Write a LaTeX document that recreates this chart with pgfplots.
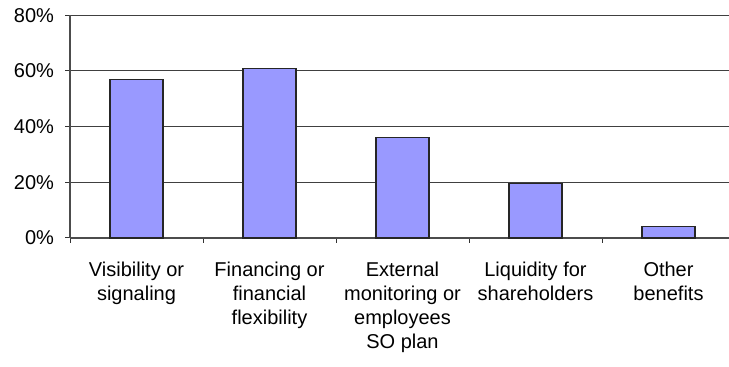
\documentclass[border=0pt]{standalone}
\usepackage{pgfplots}
\pgfplotsset{compat=1.18}
\usepackage{fontspec}
\setmainfont{Liberation Sans}
\definecolor{barfill}{HTML}{9999FF}
\begin{document}
\begin{tikzpicture}
\begin{axis}[
  width=332.5pt, height=111.35pt, scale only axis,
  xmin=-0.5, xmax=4.5, ymin=0, ymax=80,
  axis x line=bottom, axis y line=left,
  axis line style={-, draw=black!70, line width=0.6pt},
  xtick={0,1,2,3,4},
  xticklabels={Visibility or\\signaling, Financing or\\financial\\flexibility, External\\monitoring or\\employees\\SO plan, Liquidity for\\shareholders, Other\\benefits},
  xticklabel style={align=center, font=\normalsize, yshift=-6pt},
  major x tick style={draw=none},
  minor xtick={-0.5,0.5,1.5,2.5,3.5,4.5},
  minor x tick style={draw=black!80, line width=0.5pt},
  ytick={0,20,40,60,80},
  yticklabels={0\%,20\%,40\%,60\%,80\%},
  yticklabel style={font=\normalsize, xshift=-2pt},
  y tick style={draw=black!80, line width=0.5pt},
  tick align=outside,
  major tick length=2.5pt, minor tick length=2.5pt,
  ymajorgrids, grid style={draw=black!75, line width=0.5pt},
  /pgf/number format/assume math mode=true,
  clip=false,
]
\addplot[ybar, bar width=26.5pt, fill=barfill, draw=black!85, line width=0.6pt]
  coordinates {(0,57) (1,61) (2,36) (3,19.5) (4,4)};
\end{axis}
\pgfresetboundingbox
\path ([xshift=-35pt, yshift=-64.5pt]current axis.south west) rectangle ([xshift=-3pt, yshift=7.65pt]current axis.north east);
\end{tikzpicture}
\end{document}
